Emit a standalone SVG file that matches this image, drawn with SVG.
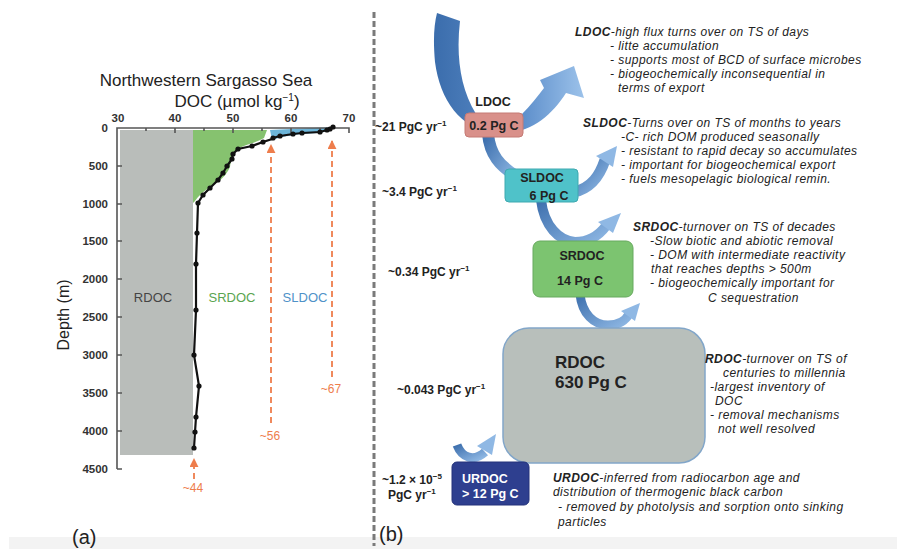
<svg xmlns="http://www.w3.org/2000/svg" width="897" height="549" viewBox="0 0 897 549">
<defs>
<style>
.t{font-family:"Liberation Sans",Arial,sans-serif}
.tick{font-family:"Liberation Sans",Arial,sans-serif;font-size:11.5px;font-weight:bold;fill:#333}
.org{font-family:"Liberation Sans",Arial,sans-serif;font-size:12px;fill:#ee7d4c}
.flux{font-family:"Liberation Sans",Arial,sans-serif;font-size:12px;font-weight:bold;fill:#222}
.note{font-family:"Liberation Sans",Arial,sans-serif;font-size:12px;letter-spacing:0.45px;font-style:italic;fill:#222}
.nb{font-weight:bold}
.bx{font-family:"Liberation Sans",Arial,sans-serif;font-size:12.5px;font-weight:bold;fill:#222;text-anchor:middle}
.ax{stroke:#555;stroke-width:1.6;fill:none}
.dash{stroke:#ee7d4c;stroke-width:1.8;stroke-dasharray:6 4;fill:none}
.prof{stroke:#111;stroke-width:2.2;fill:none}
.arr{fill:none;stroke:url(#bg);}
</style>
<linearGradient id="bg" x1="0" y1="0" x2="1" y2="1">
<stop offset="0" stop-color="#3e70ae"/>
<stop offset="1" stop-color="#8fb8e4"/>
</linearGradient>
<linearGradient id="bg2" x1="0" y1="0" x2="1" y2="0">
<stop offset="0" stop-color="#3b6dac"/>
<stop offset="0.6" stop-color="#5f90cc"/>
<stop offset="1" stop-color="#9cc2ea"/>
</linearGradient>
<marker id="oh" viewBox="0 0 10 10" refX="9" refY="5" markerWidth="5" markerHeight="5" orient="auto">
<path d="M0,0 L10,5 L0,10 Z" fill="#ee7d4c"/>
</marker>
</defs>
<rect width="897" height="549" fill="#fff"/>
<rect x="9" y="537" width="888" height="12" fill="#f3f3f3"/>

<!-- panel a -->
<g id="chart">
<text class="t" x="206" y="86" font-size="17" fill="#222" text-anchor="middle">Northwestern Sargasso Sea</text>
<text class="t" x="237" y="107" font-size="17" fill="#222" text-anchor="middle">DOC (µmol kg<tspan font-size="10" dy="-6">−1</tspan><tspan dy="6">)</tspan></text>
<polygon points="120,130 193,130 193,455 120,455" fill="#b9bdba"/>
<path d="M193,130 L267,130 L264,138 C255,143 244,145 240,148 C233,152 231,160 230,167 C226,176 220,181 210,187 C203,192 198,196 195,201 L193,203 Z" fill="#86c26f"/>
<path d="M270,130 L334,127 L330,131 L318,133 L300,134 L282,137 L272,140 Z" fill="#6cb5d9"/>
<path class="ax" d="M117,469 L117,128 L349,128 L349,133 M146,128 L146,131 M175,128 L175,133 M204,128 L204,131 M233,128 L233,133 M262,128 L262,131 M291,128 L291,133 M320,128 L320,131 M117,166 L122,166 M117,204 L122,204 M117,241 L122,241 M117,279 L122,279 M117,317 L122,317 M117,355 L122,355 M117,393 L122,393 M117,431 L122,431 M117,469 L122,469"/>
<text class="tick" x="118" y="122" text-anchor="middle">30</text>
<text class="tick" x="175" y="122" text-anchor="middle">40</text>
<text class="tick" x="233" y="122" text-anchor="middle">50</text>
<text class="tick" x="291" y="122" text-anchor="middle">60</text>
<text class="tick" x="349" y="122" text-anchor="middle">70</text>
<text class="tick" x="108" y="132" text-anchor="end">0</text>
<text class="tick" x="108" y="170" text-anchor="end">500</text>
<text class="tick" x="108" y="208" text-anchor="end">1000</text>
<text class="tick" x="108" y="245" text-anchor="end">1500</text>
<text class="tick" x="108" y="283" text-anchor="end">2000</text>
<text class="tick" x="108" y="321" text-anchor="end">2500</text>
<text class="tick" x="108" y="359" text-anchor="end">3000</text>
<text class="tick" x="108" y="397" text-anchor="end">3500</text>
<text class="tick" x="108" y="435" text-anchor="end">4000</text>
<text class="tick" x="108" y="473" text-anchor="end">4500</text>
<text class="t" x="0" y="0" font-size="16" fill="#222" text-anchor="middle" transform="translate(69,315) rotate(-90)">Depth (m)</text>
<text class="t" x="153" y="302" font-size="13" fill="#444" text-anchor="middle">RDOC</text>
<text class="t" x="232" y="302" font-size="13" fill="#5aa54f" text-anchor="middle">SRDOC</text>
<text class="t" x="305" y="302" font-size="13" fill="#4f92c8" text-anchor="middle">SLDOC</text>
<polyline class="prof" points="333,127 330,129 327,130 320,132 302,133 293,134 280,136 273,138 272,139 263,142 252,146 238,149 233,154 232,159 227,166 223,173 218,180 210,188 203,195 198,203 197,233 196,264 196,310 194,355 199,386 196,417 195,432 194,448"/>
<g fill="#111">
<circle cx="333" cy="127" r="2.6"/><circle cx="330" cy="129" r="2.6"/><circle cx="327" cy="130" r="2.6"/><circle cx="320" cy="132" r="2.6"/><circle cx="302" cy="133" r="2.6"/><circle cx="293" cy="134" r="2.6"/><circle cx="280" cy="136" r="2.6"/><circle cx="273" cy="138" r="2.6"/><circle cx="263" cy="142" r="2.6"/><circle cx="252" cy="146" r="2.6"/><circle cx="238" cy="149" r="2.6"/><circle cx="233" cy="154" r="2.6"/><circle cx="232" cy="159" r="2.6"/><circle cx="227" cy="166" r="2.6"/><circle cx="223" cy="173" r="2.6"/><circle cx="218" cy="180" r="2.6"/><circle cx="210" cy="188" r="2.6"/><circle cx="203" cy="195" r="2.6"/><circle cx="198" cy="203" r="2.6"/><circle cx="197" cy="233" r="2.6"/><circle cx="196" cy="264" r="2.6"/><circle cx="196" cy="310" r="2.6"/><circle cx="194" cy="355" r="2.6"/><circle cx="199" cy="386" r="2.6"/><circle cx="196" cy="417" r="2.6"/><circle cx="195" cy="432" r="2.6"/><circle cx="194" cy="448" r="2.6"/>
</g>
<path class="dash" d="M271,423 L271,145" marker-end="url(#oh)"/>
<path class="dash" d="M332,377 L332,141" marker-end="url(#oh)"/>
<path class="dash" d="M194,479 L194,459" marker-end="url(#oh)"/>
<text class="org" x="270" y="440" text-anchor="middle">~56</text>
<text class="org" x="331" y="393" text-anchor="middle">~67</text>
<text class="org" x="193" y="492" text-anchor="middle">~44</text>
<text class="t" x="72" y="544" font-size="20" fill="#222">(a)</text>
</g>

<line x1="374" y1="12" x2="374" y2="546" stroke="#7a7a7a" stroke-width="3" stroke-dasharray="6 3"/>

<!-- connectors -->
<g id="connectors">
<path d="M437,13 L460,21 C456,55 460,88 476,114 L522,114 C530,106 538,96 544,88 L540,80 L574,66 L584,98 L566,93 C550,118 527,136 495,133 C460,129 440,100 435,62 C433,40 434,25 437,13 Z" fill="url(#bg2)"/>
<path class="arr" d="M488,134 C490,155 500,166 516,176" stroke-width="12"/>
<path class="arr" d="M574,192 C592,188 600,175 605,160" stroke-width="11"/>
<polygon points="596,156 617,146 613,167" fill="#8fb8e4"/>
<path class="arr" d="M541,200 C544,226 559,241 575,242 C590,242 600,234 606,226" stroke-width="10"/>
<polygon points="598,222 621,213 613,233" fill="#8fb8e4"/>
<path class="arr" d="M580,294 C582,314 594,325 608,325 C619,325 626,320 629,314" stroke-width="9"/>
<polygon points="621,311 640,303 635,321" fill="#8fb8e4"/>
<path class="arr" d="M457,445 C462,458 474,462 485,452" stroke-width="9"/>
<polygon points="477,446 496,434 492,455" fill="#8fb8e4"/>
</g>

<!-- nodes -->
<g id="ldoc">
<text class="bx" x="493" y="106">LDOC</text>
<rect x="465" y="113" width="58" height="24" rx="4" fill="#d9908a" stroke="#c57a74" stroke-width="1"/>
<text class="bx" x="494" y="130">0.2 Pg C</text>
</g>
<g id="sldoc">
<rect x="505" y="169" width="73" height="33" rx="4" fill="#4fc2c9" stroke="#3fa9b0" stroke-width="1"/>
<text class="bx" x="542" y="182">SLDOC</text>
<text class="bx" x="549" y="200">6 Pg C</text>
</g>
<g id="srdoc">
<rect x="533" y="241" width="100" height="56" rx="7" fill="#7cc470" stroke="#67a95e" stroke-width="1"/>
<text class="bx" x="582" y="260">SRDOC</text>
<text class="bx" x="580" y="285">14 Pg C</text>
</g>
<g id="rdoc">
<rect x="503" y="328" width="202" height="135" rx="26" fill="#b8bfbb" stroke="#82a6c9" stroke-width="1.5"/>
<text class="t" x="555" y="368" font-size="17" font-weight="bold" fill="#222">RDOC</text>
<text class="t" x="555" y="388" font-size="17" font-weight="bold" fill="#222">630 Pg C</text>
</g>
<g id="urdoc">
<rect x="452" y="462" width="77" height="43" rx="5" fill="#2e3f8f" stroke="#24337a" stroke-width="1"/>
<text class="t" x="462" y="483" font-size="12.5" font-weight="bold" fill="#fff">URDOC</text>
<text class="t" x="462" y="498" font-size="12.5" font-weight="bold" fill="#fff">&gt; 12 Pg C</text>
</g>

<!-- flux labels -->
<g id="fluxes">
<text class="flux" x="375" y="131">~21 PgC yr<tspan font-size="8" dy="-5">−1</tspan></text>
<text class="flux" x="382" y="196">~3.4 PgC yr<tspan font-size="8" dy="-5">−1</tspan></text>
<text class="flux" x="388" y="276">~0.34 PgC yr<tspan font-size="8" dy="-5">−1</tspan></text>
<text class="flux" x="397" y="394">~0.043 PgC yr<tspan font-size="8" dy="-5">−1</tspan></text>
<text class="flux" x="382" y="484">~1.2 × 10<tspan font-size="8" dy="-5">−5</tspan></text>
<text class="flux" x="388" y="499">PgC yr<tspan font-size="8" dy="-5">−1</tspan></text>
<text class="t" x="379" y="541" font-size="20" fill="#222">(b)</text>
</g>

<!-- notes -->
<g id="notes">
<text class="note" x="575" y="36"><tspan class="nb">LDOC</tspan>-high flux turns over on TS of  days</text>
<text class="note" x="610" y="50">- litte accumulation</text>
<text class="note" x="610" y="64">- supports most of BCD of surface microbes</text>
<text class="note" x="610" y="78">- biogeochemically inconsequential in</text>
<text class="note" x="618" y="92">terms of export</text>
<text class="note" x="583" y="127"><tspan class="nb">SLDOC</tspan>-Turns over on TS of months to years</text>
<text class="note" x="621" y="141">-C- rich DOM produced seasonally</text>
<text class="note" x="621" y="155">- resistant to rapid decay so accumulates</text>
<text class="note" x="621" y="169">- important for biogeochemical export</text>
<text class="note" x="621" y="183">- fuels mesopelagic biological remin.</text>
<text class="note" x="633" y="231"><tspan class="nb">SRDOC</tspan>-turnover on TS of  decades</text>
<text class="note" x="650" y="245">-Slow biotic and abiotic removal</text>
<text class="note" x="650" y="259">-  DOM with intermediate reactivity</text>
<text class="note" x="651" y="273">that reaches depths &gt; 500m</text>
<text class="note" x="650" y="287">-  biogeochemically important for</text>
<text class="note" x="708" y="302">C sequestration</text>
<text class="note" x="705" y="363"><tspan class="nb">RDOC</tspan>-turnover on TS of</text>
<text class="note" x="723" y="377">centuries to millennia</text>
<text class="note" x="710" y="391">-largest inventory of</text>
<text class="note" x="715" y="405">DOC</text>
<text class="note" x="710" y="419">-  removal mechanisms</text>
<text class="note" x="718" y="433">not well resolved</text>
<text class="note" x="553" y="482"><tspan class="nb">URDOC</tspan>-inferred from radiocarbon age and</text>
<text class="note" x="553" y="496">distribution of thermogenic black carbon</text>
<text class="note" x="558" y="511">- removed by photolysis and sorption onto sinking</text>
<text class="note" x="558" y="526">particles</text>
</g>
</svg>
